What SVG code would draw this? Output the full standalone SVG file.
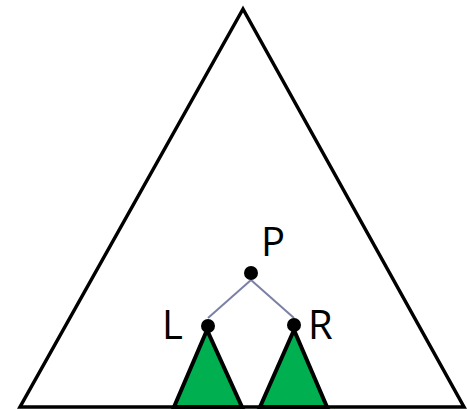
<svg xmlns="http://www.w3.org/2000/svg" width="467" height="410" viewBox="0 0 467 410">
<style>
.tri{fill:none;stroke:#000;stroke-width:3.5;stroke-linejoin:miter}
.sub{fill:#00b050;stroke:#000;stroke-width:4;stroke-linejoin:miter}
.edge{stroke:#7a80a6;stroke-width:2;fill:none}
.dot{fill:#000}
.lbl{font-family:"Open Sans",Lato,sans-serif;font-size:40px;fill:#000}
</style>
<rect width="467" height="410" fill="#fff"/>
<g id="outer"><polygon class="tri" points="243,9 20,407 464,407"/></g>
<g id="connectors">
<line class="edge" x1="251" y1="280" x2="208" y2="318"/>
<line class="edge" x1="251" y1="280" x2="294" y2="318"/>
</g>
<g id="subL"><polygon class="sub" points="207,330 174,407 242,407"/></g>
<g id="subR"><polygon class="sub" points="294,330 260,407 327,407"/></g>
<g id="P"><circle class="dot" cx="251" cy="273" r="7"/><text class="lbl" x="261" y="256">P</text></g>
<g id="L"><circle class="dot" cx="208" cy="326" r="7"/><text class="lbl" x="162" y="339">L</text></g>
<g id="R"><circle class="dot" cx="294" cy="325" r="7"/><text class="lbl" x="308" y="339">R</text></g>
</svg>
